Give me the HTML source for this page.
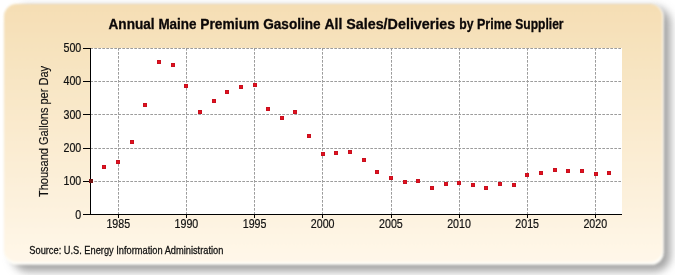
<!DOCTYPE html><html><head><meta charset="utf-8"><style>
html,body{margin:0;padding:0;background:#fff;width:675px;height:275px;overflow:hidden}
svg{display:block;will-change:transform}
text{font-family:"Liberation Sans",sans-serif}
</style></head><body>
<svg width="675" height="275" viewBox="0 0 675 275">
<defs>
<linearGradient id="bg" x1="0" y1="0" x2="0" y2="1">
<stop offset="0" stop-color="#F5DEB4"/>
<stop offset="1" stop-color="#FFF7E9"/>
</linearGradient>
<filter id="sh" x="-10%" y="-10%" width="120%" height="130%"><feGaussianBlur stdDeviation="4"/></filter>
<filter id="bl" x="-5%" y="-5%" width="110%" height="110%"><feGaussianBlur stdDeviation="1.2"/></filter>
</defs>
<rect x="12" y="7" width="658.5" height="264.5" rx="16" ry="16" fill="#a3a3a3" filter="url(#sh)"/>
<g filter="url(#bl)">
<rect x="4" y="4" width="659.8" height="260.8" rx="12.5" ry="12.5" fill="#FFFEF9"/>
<rect x="4" y="4" width="658.5" height="258" rx="12.5" ry="12.5" fill="url(#bg)"/>
</g>

<rect x="91" y="48" width="531" height="166" fill="#fff"/>
<g stroke="#9c9c9c" stroke-width="1" stroke-dasharray="2.7,1.3" fill="none"><line x1="90.3" y1="181.5" x2="622" y2="181.5"/><line x1="90.3" y1="148.5" x2="622" y2="148.5"/><line x1="90.3" y1="114.5" x2="622" y2="114.5"/><line x1="90.3" y1="81.5" x2="622" y2="81.5"/><line x1="90.3" y1="48.5" x2="622" y2="48.5"/><line x1="118.5" y1="48" x2="118.5" y2="214"/><line x1="186.5" y1="48" x2="186.5" y2="214"/><line x1="254.5" y1="48" x2="254.5" y2="214"/><line x1="322.5" y1="48" x2="322.5" y2="214"/><line x1="391.5" y1="48" x2="391.5" y2="214"/><line x1="459.5" y1="48" x2="459.5" y2="214"/><line x1="527.5" y1="48" x2="527.5" y2="214"/><line x1="595.5" y1="48" x2="595.5" y2="214"/></g>
<g><rect x="102" y="165" width="4" height="4" fill="#C8101E"/><rect x="103" y="166" width="2" height="2" fill="#E4101E"/><rect x="116" y="160" width="4" height="4" fill="#C8101E"/><rect x="117" y="161" width="2" height="2" fill="#E4101E"/><rect x="130" y="140" width="4" height="4" fill="#C8101E"/><rect x="131" y="141" width="2" height="2" fill="#E4101E"/><rect x="143" y="103" width="4" height="4" fill="#C8101E"/><rect x="144" y="104" width="2" height="2" fill="#E4101E"/><rect x="157" y="60" width="4" height="4" fill="#C8101E"/><rect x="158" y="61" width="2" height="2" fill="#E4101E"/><rect x="171" y="63" width="4" height="4" fill="#C8101E"/><rect x="172" y="64" width="2" height="2" fill="#E4101E"/><rect x="184" y="84" width="4" height="4" fill="#C8101E"/><rect x="185" y="85" width="2" height="2" fill="#E4101E"/><rect x="198" y="110" width="4" height="4" fill="#C8101E"/><rect x="199" y="111" width="2" height="2" fill="#E4101E"/><rect x="212" y="99" width="4" height="4" fill="#C8101E"/><rect x="213" y="100" width="2" height="2" fill="#E4101E"/><rect x="225" y="90" width="4" height="4" fill="#C8101E"/><rect x="226" y="91" width="2" height="2" fill="#E4101E"/><rect x="239" y="85" width="4" height="4" fill="#C8101E"/><rect x="240" y="86" width="2" height="2" fill="#E4101E"/><rect x="253" y="83" width="4" height="4" fill="#C8101E"/><rect x="254" y="84" width="2" height="2" fill="#E4101E"/><rect x="266" y="107" width="4" height="4" fill="#C8101E"/><rect x="267" y="108" width="2" height="2" fill="#E4101E"/><rect x="280" y="116" width="4" height="4" fill="#C8101E"/><rect x="281" y="117" width="2" height="2" fill="#E4101E"/><rect x="293" y="110" width="4" height="4" fill="#C8101E"/><rect x="294" y="111" width="2" height="2" fill="#E4101E"/><rect x="307" y="134" width="4" height="4" fill="#C8101E"/><rect x="308" y="135" width="2" height="2" fill="#E4101E"/><rect x="321" y="152" width="4" height="4" fill="#C8101E"/><rect x="322" y="153" width="2" height="2" fill="#E4101E"/><rect x="334" y="151" width="4" height="4" fill="#C8101E"/><rect x="335" y="152" width="2" height="2" fill="#E4101E"/><rect x="348" y="150" width="4" height="4" fill="#C8101E"/><rect x="349" y="151" width="2" height="2" fill="#E4101E"/><rect x="362" y="158" width="4" height="4" fill="#C8101E"/><rect x="363" y="159" width="2" height="2" fill="#E4101E"/><rect x="375" y="170" width="4" height="4" fill="#C8101E"/><rect x="376" y="171" width="2" height="2" fill="#E4101E"/><rect x="389" y="176" width="4" height="4" fill="#C8101E"/><rect x="390" y="177" width="2" height="2" fill="#E4101E"/><rect x="403" y="180" width="4" height="4" fill="#C8101E"/><rect x="404" y="181" width="2" height="2" fill="#E4101E"/><rect x="416" y="179" width="4" height="4" fill="#C8101E"/><rect x="417" y="180" width="2" height="2" fill="#E4101E"/><rect x="430" y="186" width="4" height="4" fill="#C8101E"/><rect x="431" y="187" width="2" height="2" fill="#E4101E"/><rect x="444" y="182" width="4" height="4" fill="#C8101E"/><rect x="445" y="183" width="2" height="2" fill="#E4101E"/><rect x="457" y="181" width="4" height="4" fill="#C8101E"/><rect x="458" y="182" width="2" height="2" fill="#E4101E"/><rect x="471" y="183" width="4" height="4" fill="#C8101E"/><rect x="472" y="184" width="2" height="2" fill="#E4101E"/><rect x="484" y="186" width="4" height="4" fill="#C8101E"/><rect x="485" y="187" width="2" height="2" fill="#E4101E"/><rect x="498" y="182" width="4" height="4" fill="#C8101E"/><rect x="499" y="183" width="2" height="2" fill="#E4101E"/><rect x="512" y="183" width="4" height="4" fill="#C8101E"/><rect x="513" y="184" width="2" height="2" fill="#E4101E"/><rect x="525" y="173" width="4" height="4" fill="#C8101E"/><rect x="526" y="174" width="2" height="2" fill="#E4101E"/><rect x="539" y="171" width="4" height="4" fill="#C8101E"/><rect x="540" y="172" width="2" height="2" fill="#E4101E"/><rect x="553" y="168" width="4" height="4" fill="#C8101E"/><rect x="554" y="169" width="2" height="2" fill="#E4101E"/><rect x="566" y="169" width="4" height="4" fill="#C8101E"/><rect x="567" y="170" width="2" height="2" fill="#E4101E"/><rect x="580" y="169" width="4" height="4" fill="#C8101E"/><rect x="581" y="170" width="2" height="2" fill="#E4101E"/><rect x="594" y="172" width="4" height="4" fill="#C8101E"/><rect x="595" y="173" width="2" height="2" fill="#E4101E"/><rect x="607" y="171" width="4" height="4" fill="#C8101E"/><rect x="608" y="172" width="2" height="2" fill="#E4101E"/></g>
<g stroke="#000" stroke-width="1"><line x1="90.5" y1="48" x2="90.5" y2="215"/><line x1="90" y1="214.5" x2="622" y2="214.5"/><line x1="83" y1="48.5" x2="90" y2="48.5"/><line x1="83" y1="81.5" x2="90" y2="81.5"/><line x1="83" y1="114.5" x2="90" y2="114.5"/><line x1="83" y1="148.5" x2="90" y2="148.5"/><line x1="83" y1="181.5" x2="90" y2="181.5"/><line x1="83" y1="214.5" x2="90" y2="214.5"/><line x1="118.5" y1="214" x2="118.5" y2="218"/><line x1="186.5" y1="214" x2="186.5" y2="218"/><line x1="254.5" y1="214" x2="254.5" y2="218"/><line x1="322.5" y1="214" x2="322.5" y2="218"/><line x1="391.5" y1="214" x2="391.5" y2="218"/><line x1="459.5" y1="214" x2="459.5" y2="218"/><line x1="527.5" y1="214" x2="527.5" y2="218"/><line x1="595.5" y1="214" x2="595.5" y2="218"/></g>
<rect x="89" y="179" width="4" height="4" fill="#741414"/>
<g font-size="12" fill="#111" stroke="#111" stroke-width="0.2"><text transform="translate(81.3,219.0) scale(0.89,1)" text-anchor="end">0</text><text transform="translate(81.3,185.0) scale(0.89,1)" text-anchor="end">100</text><text transform="translate(81.3,152.0) scale(0.89,1)" text-anchor="end">200</text><text transform="translate(81.3,118.8) scale(0.89,1)" text-anchor="end">300</text><text transform="translate(81.3,85.0) scale(0.89,1)" text-anchor="end">400</text><text transform="translate(81.3,52.0) scale(0.89,1)" text-anchor="end">500</text><text transform="translate(118.3,228) scale(0.89,1)" text-anchor="middle">1985</text><text transform="translate(186.4,228) scale(0.89,1)" text-anchor="middle">1990</text><text transform="translate(254.6,228) scale(0.89,1)" text-anchor="middle">1995</text><text transform="translate(322.7,228) scale(0.89,1)" text-anchor="middle">2000</text><text transform="translate(390.9,228) scale(0.89,1)" text-anchor="middle">2005</text><text transform="translate(459.0,228) scale(0.89,1)" text-anchor="middle">2010</text><text transform="translate(527.2,228) scale(0.89,1)" text-anchor="middle">2015</text><text transform="translate(595.3,228) scale(0.89,1)" text-anchor="middle">2020</text></g>
<g font-size="14" font-weight="bold" fill="#0c0808" stroke="#0c0808" stroke-width="0.3"><text transform="translate(108.50,28.8) scale(0.9720,1)">Annual</text><text transform="translate(158.40,28.8) scale(0.9615,1)">Maine</text><text transform="translate(200.30,28.8) scale(0.9857,1)">Premium</text><text transform="translate(263.20,28.8) scale(0.9726,1)">Gasoline</text><text transform="translate(324.50,28.8) scale(0.9963,1)">All</text><text transform="translate(346.20,28.8) scale(1.0233,1)">Sales/Deliveries</text><text transform="translate(459.30,28.8) scale(0.8700,1)">by</text><text transform="translate(476.90,28.8) scale(0.8970,1)">Prime</text><text transform="translate(515.30,28.8) scale(0.8622,1)">Supplier</text></g>
<text transform="translate(48,131.5) rotate(-90) scale(0.92,1)" text-anchor="middle" font-size="12" fill="#111" stroke="#111" stroke-width="0.15">Thousand Gallons per Day</text>
<text transform="translate(29.3,253.5) scale(0.928,1)" font-size="10" fill="#111" stroke="#111" stroke-width="0.25">Source: U.S. Energy Information Administration</text>
</svg></body></html>
